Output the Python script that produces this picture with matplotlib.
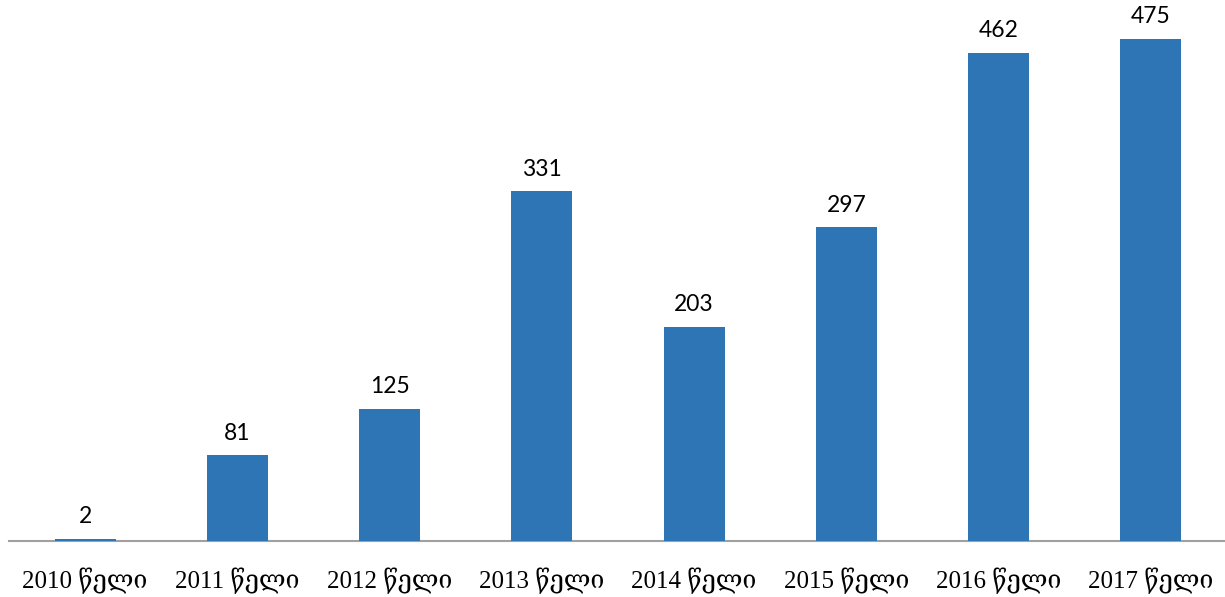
import matplotlib.pyplot as plt
import numpy as np

years = ['2010', '2011', '2012', '2013', '2014', '2015', '2016', '2017']
labels = [y + ' წელი' for y in years]
values = [2, 81, 125, 331, 203, 297, 462, 475]

fig = plt.figure(figsize=(12.25, 5.97), dpi=100)
ax = fig.add_axes([9 / 1225, 1 - 541 / 597, 1218 / 1225, 541 / 597])

x = np.arange(len(values))
bars = ax.bar(x, values, width=0.4, color='#2E75B6', zorder=3)

for xi, v in zip(x, values):
    ax.text(xi, v + 11, str(v), ha='center', va='bottom', fontsize=16.5,
            family=['Lato', 'DejaVu Sans'], color='black')

ax.set_xlim(-0.5, len(values) - 0.5)
ax.set_ylim(0, 512)
ax.set_yticks([])
ax.set_xticks(x)
ax.set_xticklabels(labels, family=['Liberation Serif', 'DejaVu Serif', 'DejaVu Sans'], fontsize=18)
ax.tick_params(axis='x', length=0, pad=19)

for s in ['top', 'right', 'left']:
    ax.spines[s].set_visible(False)
ax.spines['bottom'].set_color('#a0a0a0')
ax.spines['bottom'].set_linewidth(1.5)
ax.spines['bottom'].set_zorder(1)

fig.savefig('out.png', dpi=100)
